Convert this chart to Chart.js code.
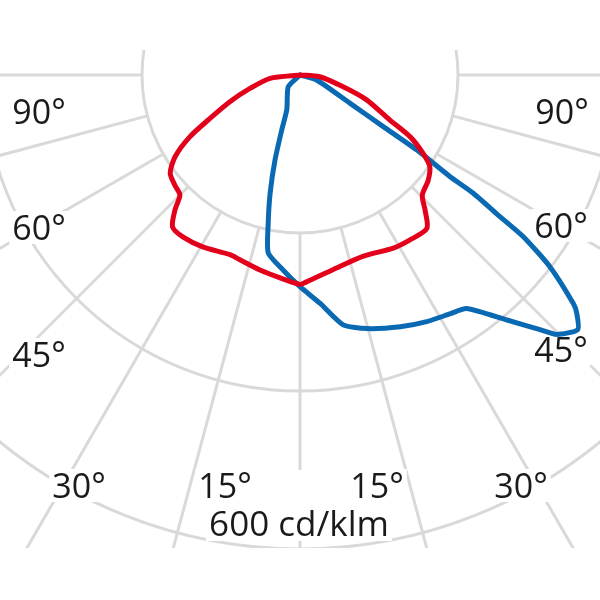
<!DOCTYPE html>
<html>
<head>
<meta charset="utf-8">
<script src="https://cdn.jsdelivr.net/npm/chart.js@4/dist/chart.umd.min.js"></script>
<style>
  html, body { margin: 0; padding: 0; background: #ffffff; }
  #wrap { width: 600px; height: 600px; }
</style>
</head>
<body>
<div id="wrap"><canvas id="c" width="600" height="600"></canvas></div>
<script>
// ---- Data (gamma angle in degrees, 0 = straight down, + = right; intensity in cd/klm) ----
const gammaRed = [-90, -83.7, -75.1, -69.1, -64.3, -60.7, -56.8, -52.9, -48.7, -45, -42.8, -40, -35.9, -29.5, -21.3, -18, -11.6, -5.6, 0, 1.8, 9.6, 19.1, 28.3, 33.7, 39.6, 42.8, 45.5, 50.6, 54.8, 57.6, 60.7, 63.4, 69.5, 74.8, 85, 90];
const intensityRed = [0, 38, 65, 95, 126, 160, 189, 206, 211, 215, 233, 251, 253, 250, 244, 246, 252, 258, 265, 262, 250, 243, 249, 251, 252, 233, 217, 210, 201, 184, 160, 127, 90, 56, 25, 0];

const gammaBlue = [-90, -45, -20.8, -18.4, -16.4, -14.2, -12.1, -10.1, -4.9, 0, 5, 9.8, 14.8, 21.7, 27.2, 32.1, 35.5, 40.2, 43.3, 44.7, 47.5, 49.3, 50.1, 52.5, 54.1, 54.7, 55.7, 55.9, 57.3, 58.2, 60.5, 73.3, 90];
const intensityBlue = [0, 21, 47, 73, 112, 154, 192, 229, 248, 268, 290, 321, 332, 343, 351, 357, 363, 406, 443, 462, 477, 462, 451, 399, 349, 310, 265, 229, 176, 124, 73, 22, 0];

const ringValues = [200, 400, 600];
const spokeAngles = [-90, -75, -60, -45, -30, -15, 0, 15, 30, 45, 60, 75, 90];
const angleLabels = ['90°', '90°', '60°', '60°', '45°', '45°', '30°', '15°', '15°', '30°'];
const unitLabel = '600 cd/klm';

// ---- Layout / style ----
const labelPos = [[39,124],[562,124],[39,240],[561,238],[39,367],[561,362],[79,498],[225,498],[377,498],[521,498]];
const unitPos = [299, 536];
const FONT = '34px "Open Sans"';
const UNIT_FONT = '35px "Open Sans"';
const GRID = '#d9d9d9';

function toXY(gam, inten) {
  return gam.map((g, i) => {
    const a = g * Math.PI / 180;
    return { x: inten[i] * Math.sin(a), y: -inten[i] * Math.cos(a) };
  });
}

const polarGrid = {
  id: 'polarGrid',
  beforeDatasetsDraw(chart) {
    const ctx = chart.ctx;
    const xs = chart.scales.x, ys = chart.scales.y;
    const cx = xs.getPixelForValue(0), cy = ys.getPixelForValue(0);
    const k = xs.getPixelForValue(1) - cx;
    ctx.save();
    ctx.beginPath();
    ctx.rect(0, 50, 600, 498);
    ctx.clip();
    ctx.strokeStyle = GRID;
    ctx.lineWidth = 3;
    ringValues.forEach(v => {
      ctx.beginPath();
      ctx.arc(cx, cy, v * k, 0, Math.PI * 2);
      ctx.stroke();
    });
    spokeAngles.forEach(g => {
      const a = g * Math.PI / 180;
      const r0 = ringValues[0] * k, r1 = 2000 * k;
      ctx.beginPath();
      ctx.moveTo(cx + r0 * Math.sin(a), cy + r0 * Math.cos(a));
      ctx.lineTo(cx + r1 * Math.sin(a), cy + r1 * Math.cos(a));
      ctx.stroke();
    });
    // labels with white boxes
    ctx.textAlign = 'center';
    ctx.textBaseline = 'alphabetic';
    ctx.font = FONT;
    ctx.fillStyle = '#ffffff';
    angleLabels.forEach((t, i) => {
      const [x, y] = labelPos[i];
      const w = ctx.measureText(t).width;
      ctx.fillRect(x - w / 2 - 3, y - 29, w + 6, 33);
    });
    ctx.font = UNIT_FONT;
    const uw = ctx.measureText(unitLabel).width;
    ctx.fillRect(unitPos[0] - uw / 2 - 3, 470, uw + 6, unitPos[1] + 5 - 470);
    ctx.fillStyle = '#1a1a1a';
    ctx.font = FONT;
    angleLabels.forEach((t, i) => {
      const [x, y] = labelPos[i];
      ctx.fillText(t, x, y);
    });
    ctx.font = UNIT_FONT;
    ctx.fillText(unitLabel, unitPos[0], unitPos[1]);
    ctx.restore();
  }
};

new Chart(document.getElementById('c'), {
  type: 'scatter',
  data: {
    datasets: [
      { label: 'C0-C180', data: toXY(gammaRed, intensityRed), showLine: true, borderColor: '#e3001b', borderWidth: 5, pointRadius: 0, tension: 0.25, borderJoinStyle: 'round', borderCapStyle: 'round', fill: false },
      { label: 'C90-C270', data: toXY(gammaBlue, intensityBlue), showLine: true, borderColor: '#0a69b3', borderWidth: 5, pointRadius: 0, tension: 0.2, borderJoinStyle: 'round', borderCapStyle: 'round', fill: false }
    ]
  },
  options: {
    responsive: false,
    animation: false,
    devicePixelRatio: 1,
    layout: { padding: 0 },
    plugins: { legend: { display: false }, tooltip: { enabled: false } },
    scales: {
      x: { type: 'linear', min: -379.75, max: 379.75, display: false },
      y: { type: 'linear', min: -664.56, max: 94.94, display: false }
    }
  },
  plugins: [polarGrid]
});
</script>
</body>
</html>
